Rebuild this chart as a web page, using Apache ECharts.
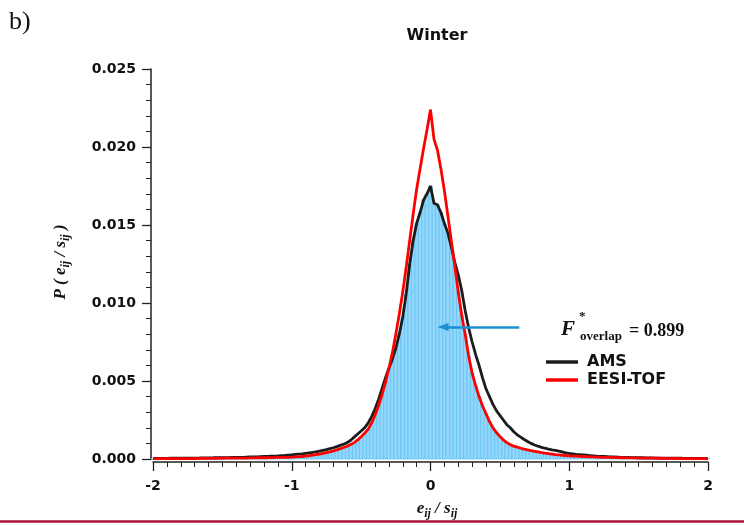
<!DOCTYPE html>
<html>
<head>
<meta charset="utf-8">
<script src="https://cdn.jsdelivr.net/npm/echarts@6/dist/echarts.min.js"></script>
<style>
  html, body { margin: 0; padding: 0; background: #fff; }
  #chart { width: 744px; height: 525px; }
</style>
</head>
<body>
<div id="chart"></div>
<script>
// Normalised residual e_ij / s_ij, binned from -2 to 2 in steps of 0.025
const binStart = -2;
const binStep = 0.025;

// Probability density of scaled residuals, AMS
const amsDensity = [
  0.00004, 0.00004, 0.00004, 0.00004, 0.00004, 0.00005, 0.00005, 0.00005,
  0.00005, 0.00005, 0.00006, 0.00006, 0.00006, 0.00006, 0.00007, 0.00007,
  0.00007, 0.00007, 0.00008, 0.00008, 0.00008, 0.00009, 0.00009, 0.00010,
  0.00010, 0.00011, 0.00011, 0.00012, 0.00013, 0.00013, 0.00014, 0.00015,
  0.00016, 0.00017, 0.00018, 0.00019, 0.00020, 0.00022, 0.00023, 0.00025,
  0.00027, 0.00029, 0.00031, 0.00033, 0.00036, 0.00039, 0.00042, 0.00046,
  0.00050, 0.00055, 0.00060, 0.00066, 0.00072, 0.00079, 0.00087, 0.00095,
  0.00105, 0.00120, 0.00140, 0.00160, 0.00180, 0.00200, 0.00230, 0.00270,
  0.00320, 0.00380, 0.00450, 0.00520, 0.00580, 0.00640, 0.00710, 0.00800,
  0.00910, 0.01060, 0.01250, 0.01400, 0.01510, 0.01580, 0.01660, 0.01700,
  0.01750,
  0.01640, 0.01630, 0.01580, 0.01510, 0.01450, 0.01360, 0.01260, 0.01180,
  0.01080, 0.00950, 0.00840, 0.00750, 0.00670, 0.00600, 0.00520, 0.00450,
  0.00400, 0.00350, 0.00310, 0.00280, 0.00250, 0.00220, 0.00200, 0.00175,
  0.00155, 0.00140, 0.00125, 0.00112, 0.00100, 0.00090, 0.00082, 0.00075,
  0.00069, 0.00064, 0.00059, 0.00055, 0.00050, 0.00045, 0.00040, 0.00036,
  0.00033, 0.00030, 0.00028, 0.00026, 0.00024, 0.00022, 0.00020, 0.00018,
  0.00017, 0.00016, 0.00015, 0.00014, 0.00013, 0.00012, 0.00011, 0.00010,
  0.00010, 0.00009, 0.00009, 0.00008, 0.00008, 0.00007, 0.00007, 0.00007,
  0.00006, 0.00006, 0.00006, 0.00005, 0.00005, 0.00005, 0.00005, 0.00005,
  0.00004, 0.00004, 0.00004, 0.00004, 0.00004, 0.00004, 0.00004, 0.00004
];

// Probability density of scaled residuals, EESI-TOF
const eesiDensity = [
  0.00002, 0.00002, 0.00002, 0.00002, 0.00002, 0.00002, 0.00003, 0.00003,
  0.00003, 0.00003, 0.00003, 0.00003, 0.00003, 0.00004, 0.00004, 0.00004,
  0.00004, 0.00004, 0.00004, 0.00005, 0.00005, 0.00005, 0.00005, 0.00005,
  0.00006, 0.00006, 0.00006, 0.00006, 0.00007, 0.00007, 0.00007, 0.00008,
  0.00008, 0.00008, 0.00009, 0.00009, 0.00010, 0.00010, 0.00011, 0.00011,
  0.00012, 0.00013, 0.00015, 0.00016, 0.00019, 0.00022, 0.00025, 0.00028,
  0.00032, 0.00036, 0.00041, 0.00046, 0.00052, 0.00059, 0.00066, 0.00074,
  0.00082, 0.00093, 0.00105, 0.00122, 0.00143, 0.00165, 0.00190, 0.00230,
  0.00280, 0.00340, 0.00410, 0.00490, 0.00580, 0.00680, 0.00800, 0.00930,
  0.01070, 0.01230, 0.01400, 0.01570, 0.01730, 0.01860, 0.01990, 0.02110,
  0.02240,
  0.02050, 0.01980, 0.01860, 0.01720, 0.01560, 0.01400, 0.01240, 0.01070,
  0.00920, 0.00800, 0.00660, 0.00550, 0.00470, 0.00400, 0.00340, 0.00290,
  0.00240, 0.00200, 0.00170, 0.00145, 0.00122, 0.00105, 0.00092, 0.00082,
  0.00076, 0.00069, 0.00063, 0.00058, 0.00053, 0.00049, 0.00045, 0.00041,
  0.00037, 0.00034, 0.00031, 0.00028, 0.00026, 0.00024, 0.00022, 0.00020,
  0.00019, 0.00018, 0.00017, 0.00016, 0.00015, 0.00014, 0.00013, 0.00012,
  0.00011, 0.00011, 0.00010, 0.00010, 0.00009, 0.00009, 0.00008, 0.00008,
  0.00007, 0.00007, 0.00007, 0.00006, 0.00006, 0.00006, 0.00005, 0.00005,
  0.00005, 0.00005, 0.00004, 0.00004, 0.00004, 0.00004, 0.00004, 0.00003,
  0.00003, 0.00003, 0.00003, 0.00003, 0.00003, 0.00003, 0.00003, 0.00003
];

const xTicks = [-2, -1, 0, 1, 2];
const yTicks = [0, 0.005, 0.010, 0.015, 0.020, 0.025];
const overlapValue = 0.899;
const seriesNames = ['AMS', 'EESI-TOF'];
// Arrow pointing into the shared area: [from, to] in data coordinates
const arrowFrom = [0.64, 0.00846];
const arrowTo = [0.09, 0.00846];

// Bin centres
const binCentres = amsDensity.map((_, i) => +(binStart + i * binStep).toFixed(3));
const amsData = binCentres.map((x, i) => [x, amsDensity[i]]);
const eesiData = binCentres.map((x, i) => [x, eesiDensity[i]]);
// Shared (overlapping) area of the two distributions
const overlapData = binCentres.map((x, i) => [x, Math.min(amsDensity[i], eesiDensity[i])]);

const SANS = 'DejaVu Sans';
const SERIF = 'Liberation Serif';
const INK = '#111';

const chart = echarts.init(document.getElementById('chart'), null, { renderer: 'canvas' });

chart.setOption({
  animation: false,
  backgroundColor: '#fff',
  grid: { left: 153, right: 36, top: 69, bottom: 66, containLabel: false },
  xAxis: {
    type: 'value',
    min: xTicks[0],
    max: xTicks[xTicks.length - 1],
    interval: 1,
    offset: 3,
    axisLine: { show: true, onZero: false, lineStyle: { color: '#222', width: 1.5 } },
    axisTick: { show: true, length: 9, lineStyle: { color: '#222', width: 1.3 } },
    minorTick: { show: true, splitNumber: 10, length: 5, lineStyle: { color: '#222', width: 1 } },
    splitLine: { show: false },
    axisLabel: { margin: 17, color: INK, fontFamily: SANS, fontWeight: 'bold', fontSize: 14 }
  },
  yAxis: {
    type: 'value',
    min: yTicks[0],
    max: yTicks[yTicks.length - 1],
    interval: 0.005,
    offset: 2,
    axisLine: { show: true, onZero: false, lineStyle: { color: '#222', width: 1.5 } },
    axisTick: { show: true, length: 9, lineStyle: { color: '#222', width: 1.3 } },
    minorTick: { show: true, splitNumber: 5, length: 5, lineStyle: { color: '#222', width: 1 } },
    splitLine: { show: false },
    axisLabel: {
      margin: 15, color: INK, fontFamily: SANS, fontWeight: 'bold', fontSize: 14,
      formatter: v => v.toFixed(3)
    }
  },
  legend: {
    orient: 'vertical',
    left: 541,
    top: 349,
    itemWidth: 32,
    itemHeight: 3.5,
    itemGap: 2,
    icon: 'rect',
    data: seriesNames,
    textStyle: { color: INK, fontFamily: SANS, fontWeight: 'bold', fontSize: 16, padding: [0, 0, 0, 4] }
  },
  series: [
    {
      name: 'overlap',
      type: 'custom',
      data: overlapData,
      silent: true,
      z: 1,
      renderItem: (params, api) => {
        const x = api.value(0);
        const y = api.value(1);
        const p0 = api.coord([x - binStep / 2, 0]);
        const p1 = api.coord([x + binStep / 2, y]);
        return {
          type: 'rect',
          shape: { x: p0[0], y: p1[1], width: p1[0] - p0[0], height: p0[1] - p1[1] },
          style: { fill: '#93d7fb', stroke: '#5fc0f1', lineWidth: 0.7 }
        };
      },
      markLine: {
        silent: true,
        symbol: ['none', 'triangle'],
        symbolSize: [8, 11],
        label: { show: false },
        lineStyle: { color: '#1b8fd4', width: 2.6, type: 'solid' },
        itemStyle: { color: '#1b8fd4' },
        data: [[{ coord: arrowFrom }, { coord: arrowTo }]]
      }
    },
    {
      name: seriesNames[0],
      type: 'line',
      data: amsData,
      showSymbol: false,
      symbol: 'none',
      z: 3,
      color: '#1c1c1c',
      lineStyle: { color: '#1c1c1c', width: 2.8 }
    },
    {
      name: seriesNames[1],
      type: 'line',
      data: eesiData,
      showSymbol: false,
      symbol: 'none',
      z: 4,
      color: '#ff0000',
      lineStyle: { color: '#ff0000', width: 2.8 }
    }
  ],
  graphic: [
    {
      type: 'text', left: 9, top: 9,
      style: { text: 'b)', fontFamily: SERIF, fontSize: 26, fill: INK }
    },
    {
      type: 'text', x: 437, y: 36,
      style: { text: 'Winter', fontFamily: SANS, fontWeight: 'bold', fontSize: 16, fill: INK, align: 'center', verticalAlign: 'middle' }
    },
    {
      // y-axis title
      type: 'text', x: 61, y: 262, rotation: Math.PI / 2,
      style: {
        text: '{m|P ( e}{s|ij}{m| / s}{s|ij}{m| )}',
        align: 'center', verticalAlign: 'middle',
        rich: {
          m: { fontFamily: SERIF, fontStyle: 'italic', fontWeight: 'bold', fontSize: 17, lineHeight: 22, fill: INK },
          s: { fontFamily: SERIF, fontStyle: 'italic', fontWeight: 'bold', fontSize: 12, lineHeight: 12, verticalAlign: 'bottom', fill: INK }
        }
      }
    },
    {
      // x-axis title
      type: 'text', x: 437, y: 509,
      style: {
        text: '{m|e}{s|ij}{m| / s}{s|ij}',
        align: 'center', verticalAlign: 'middle',
        rich: {
          m: { fontFamily: SERIF, fontStyle: 'italic', fontWeight: 'bold', fontSize: 17, lineHeight: 22, fill: INK },
          s: { fontFamily: SERIF, fontStyle: 'italic', fontWeight: 'bold', fontSize: 12, lineHeight: 12, verticalAlign: 'bottom', fill: INK }
        }
      }
    },
    {
      type: 'text', x: 561, y: 330,
      style: { text: 'F', fontFamily: SERIF, fontStyle: 'italic', fontWeight: 'bold', fontSize: 21, fill: INK, align: 'left', verticalAlign: 'middle' }
    },
    {
      type: 'text', x: 579, y: 317,
      style: { text: '*', fontFamily: SERIF, fontWeight: 'bold', fontSize: 13, fill: INK, align: 'left', verticalAlign: 'middle' }
    },
    {
      type: 'text', x: 580, y: 337,
      style: { text: 'overlap', fontFamily: SERIF, fontWeight: 'bold', fontSize: 13, fill: INK, align: 'left', verticalAlign: 'middle' }
    },
    {
      type: 'text', x: 629, y: 331,
      style: { text: '= ' + overlapValue.toFixed(3), fontFamily: SERIF, fontWeight: 'bold', fontSize: 18, fill: INK, align: 'left', verticalAlign: 'middle' }
    },
    {
      type: 'line',
      shape: { x1: 0, y1: 521.5, x2: 744, y2: 521.5 },
      style: { stroke: '#a8123c', lineWidth: 2.5 }
    }
  ]
});
</script>
</body>
</html>
